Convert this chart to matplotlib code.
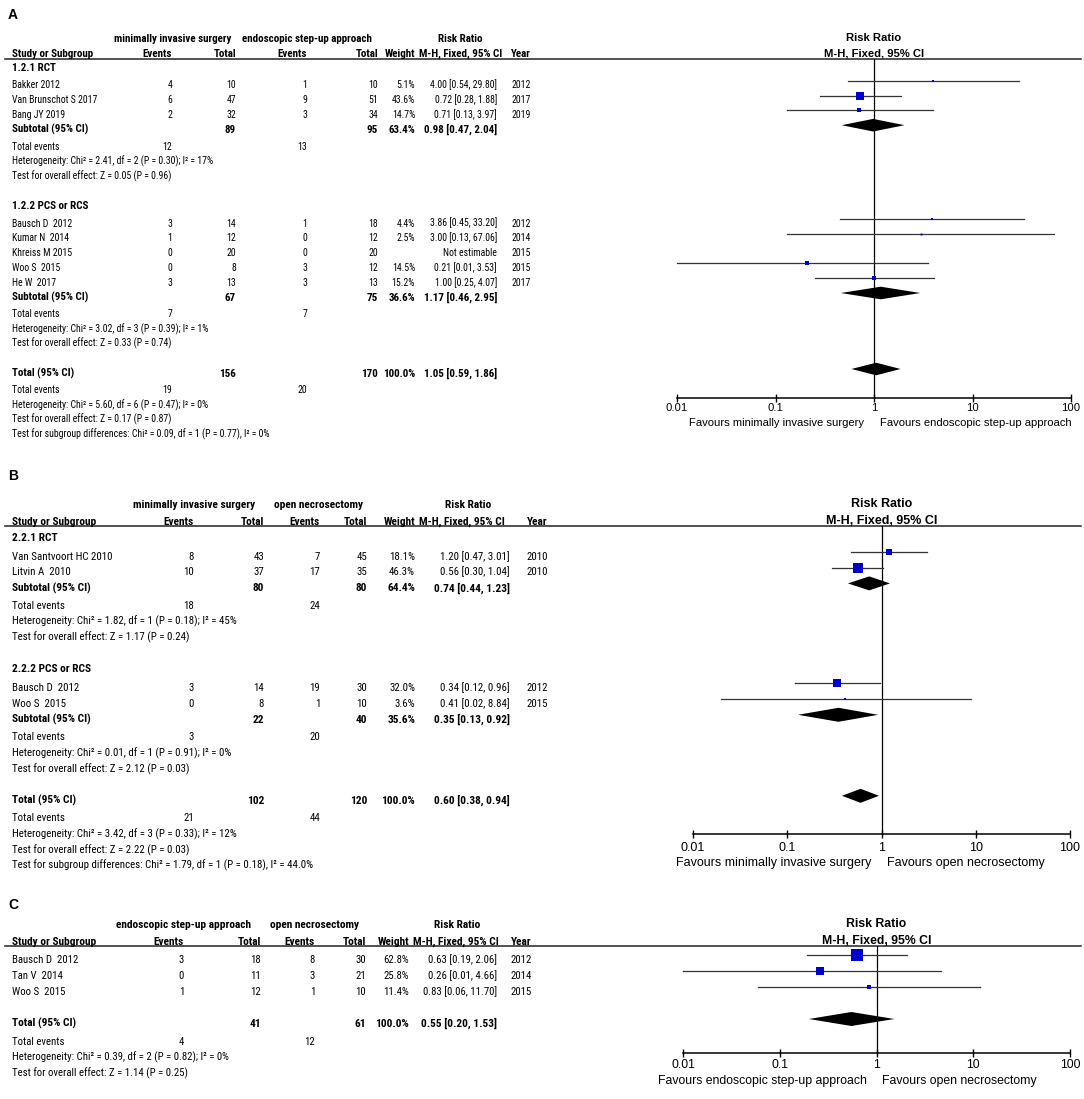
import os
import matplotlib
matplotlib.use('Agg')
import matplotlib.pyplot as plt
from matplotlib import font_manager
from matplotlib.font_manager import FontProperties
from matplotlib.ticker import NullLocator

W, H = 1084, 1099
DPI = 100

# ---------------- data: panel A ----------------
A_GROUP1 = "minimally invasive surgery"
A_GROUP2 = "endoscopic step-up approach"
A_SUBGROUPS = ["1.2.1 RCT", "1.2.2 PCS or RCS"]
A_STUDY = [["Bakker 2012", "Van Brunschot S 2017", "Bang JY 2019"],
           ["Bausch D  2012", "Kumar N  2014", "Khreiss M 2015", "Woo S  2015", "He W  2017"]]
A_EV1 = [[4, 6, 2], [3, 1, 0, 0, 3]]
A_TOT1 = [[10, 47, 32], [14, 12, 20, 8, 13]]
A_EV2 = [[1, 9, 3], [1, 0, 0, 3, 3]]
A_TOT2 = [[10, 51, 34], [18, 12, 20, 12, 13]]
A_WEIGHT = [[5.1, 43.6, 14.7], [4.4, 2.5, None, 14.5, 15.2]]
A_RR = [[4.00, 0.72, 0.71], [3.86, 3.00, None, 0.21, 1.00]]
A_LO = [[0.54, 0.28, 0.13], [0.45, 0.13, None, 0.01, 0.25]]
A_HI = [[29.80, 1.88, 3.97], [33.20, 67.06, None, 3.53, 4.07]]
A_YEAR = [[2012, 2017, 2019], [2012, 2014, 2015, 2015, 2017]]
A_SUB_TOT1 = [89, 67]
A_SUB_TOT2 = [95, 75]
A_SUB_WEIGHT = [63.4, 36.6]
A_SUB_RR = [0.98, 1.17]
A_SUB_LO = [0.47, 0.46]
A_SUB_HI = [2.04, 2.95]
A_SUB_EV1 = [12, 7]
A_SUB_EV2 = [13, 7]
A_SUB_HET = ["Heterogeneity: Chi² = 2.41, df = 2 (P = 0.30); I² = 17%",
             "Heterogeneity: Chi² = 3.02, df = 3 (P = 0.39); I² = 1%"]
A_SUB_Z = ["Test for overall effect: Z = 0.05 (P = 0.96)",
           "Test for overall effect: Z = 0.33 (P = 0.74)"]
A_TOTAL = [156, 170]
A_TOTAL_RR = [1.05, 0.59, 1.86]
A_TOTAL_EV = [19, 20]
A_TOTAL_HET = "Heterogeneity: Chi² = 5.60, df = 6 (P = 0.47); I² = 0%"
A_TOTAL_Z = "Test for overall effect: Z = 0.17 (P = 0.87)"
A_SUBDIFF = "Test for subgroup differences: Chi² = 0.09, df = 1 (P = 0.77), I² = 0%"
A_FAVOURS = ["Favours minimally invasive surgery", "Favours endoscopic step-up approach"]

# ---------------- data: panel B ----------------
B_GROUP1 = "minimally invasive surgery"
B_GROUP2 = "open necrosectomy"
B_SUBGROUPS = ["2.2.1 RCT", "2.2.2 PCS or RCS"]
B_STUDY = [["Van Santvoort HC 2010", "Litvin A  2010"], ["Bausch D  2012", "Woo S  2015"]]
B_EV1 = [[8, 10], [3, 0]]
B_TOT1 = [[43, 37], [14, 8]]
B_EV2 = [[7, 17], [19, 1]]
B_TOT2 = [[45, 35], [30, 10]]
B_WEIGHT = [[18.1, 46.3], [32.0, 3.6]]
B_RR = [[1.20, 0.56], [0.34, 0.41]]
B_LO = [[0.47, 0.30], [0.12, 0.02]]
B_HI = [[3.01, 1.04], [0.96, 8.84]]
B_YEAR = [[2010, 2010], [2012, 2015]]
B_SUB_TOT1 = [80, 22]
B_SUB_TOT2 = [80, 40]
B_SUB_WEIGHT = [64.4, 35.6]
B_SUB_RR = [0.74, 0.35]
B_SUB_LO = [0.44, 0.13]
B_SUB_HI = [1.23, 0.92]
B_SUB_EV1 = [18, 3]
B_SUB_EV2 = [24, 20]
B_SUB_HET = ["Heterogeneity: Chi² = 1.82, df = 1 (P = 0.18); I² = 45%",
             "Heterogeneity: Chi² = 0.01, df = 1 (P = 0.91); I² = 0%"]
B_SUB_Z = ["Test for overall effect: Z = 1.17 (P = 0.24)",
           "Test for overall effect: Z = 2.12 (P = 0.03)"]
B_TOTAL = [102, 120]
B_TOTAL_RR = [0.60, 0.38, 0.94]
B_TOTAL_EV = [21, 44]
B_TOTAL_HET = "Heterogeneity: Chi² = 3.42, df = 3 (P = 0.33); I² = 12%"
B_TOTAL_Z = "Test for overall effect: Z = 2.22 (P = 0.03)"
B_SUBDIFF = "Test for subgroup differences: Chi² = 1.79, df = 1 (P = 0.18), I² = 44.0%"
B_FAVOURS = ["Favours minimally invasive surgery", "Favours open necrosectomy"]

# ---------------- data: panel C ----------------
C_GROUP1 = "endoscopic step-up approach"
C_GROUP2 = "open necrosectomy"
C_STUDY = [["Bausch D  2012", "Tan V  2014", "Woo S  2015"]]
C_EV1 = [[3, 0, 1]]
C_TOT1 = [[18, 11, 12]]
C_EV2 = [[8, 3, 1]]
C_TOT2 = [[30, 21, 10]]
C_WEIGHT = [[62.8, 25.8, 11.4]]
C_RR = [[0.63, 0.26, 0.83]]
C_LO = [[0.19, 0.01, 0.06]]
C_HI = [[2.06, 4.66, 11.70]]
C_YEAR = [[2012, 2014, 2015]]
C_TOTAL = [41, 61]
C_TOTAL_RR = [0.55, 0.20, 1.53]
C_TOTAL_EV = [4, 12]
C_TOTAL_HET = "Heterogeneity: Chi² = 0.39, df = 2 (P = 0.82); I² = 0%"
C_TOTAL_Z = "Test for overall effect: Z = 1.14 (P = 0.25)"
C_FAVOURS = ["Favours endoscopic step-up approach", "Favours open necrosectomy"]

TICKS = [0.01, 0.1, 1, 10, 100]
TICK_LABELS = ["0.01", "0.1", "1", "10", "100"]

# ---------------- fonts ----------------
# the table part of the reference is set in a narrow sans; use one if the system has it
FOREST_FONT = ['Liberation Sans', 'DejaVu Sans']
plt.rcParams['font.family'] = FOREST_FONT

NARROW_FILES = [
    ('liberationsansnarrow-regular.ttf', 'liberationsansnarrow-bold.ttf'),
    ('arialn.ttf', 'arialnb.ttf'),
    ('notosans-condensed.ttf', 'notosans-condensedbold.ttf'),
    ('robotocondensed-regular.ttf', 'robotocondensed-bold.ttf'),
    ('notosans-semicondensed.ttf', 'notosans-semicondensedbold.ttf'),
    ('opensans-condensedregular.ttf', 'opensans-condensedbold.ttf'),
]


def pick_table_font():
    files = {os.path.basename(f.fname).lower(): f.fname for f in font_manager.fontManager.ttflist}
    for reg, bold in NARROW_FILES:
        if reg in files and bold in files:
            return FontProperties(fname=files[reg]), FontProperties(fname=files[bold]), True
    # any other condensed / narrow sans family
    cands = {}
    for f in font_manager.fontManager.ttflist:
        base = os.path.basename(f.fname).lower()
        if ('narrow' in base or 'condensed' in base) and 'mono' not in base and 'serif' not in base \
                and 'italic' not in base and 'extra' not in base:
            key = f.name
            w = f.weight if isinstance(f.weight, int) else (700 if 'bold' in str(f.weight) else 400)
            cands.setdefault(key, {})
            if w <= 450 and 'regular' not in cands[key]:
                cands[key]['regular'] = f.fname
            if 650 <= w <= 750 and 'bold' not in cands[key]:
                cands[key]['bold'] = f.fname
    for key, v in cands.items():
        if 'regular' in v and 'bold' in v:
            return FontProperties(fname=v['regular']), FontProperties(fname=v['bold']), True
    return (FontProperties(family='Liberation Sans'),
            FontProperties(family='Liberation Sans', weight='bold'), False)


TABLE_REG, TABLE_BOLD, IS_NARROW = pick_table_font()

BLUE = '#0000cc'
LINE = '#333333'

# ---------------- layout (pixels) ----------------
LAY_A = dict(label=15, h1=38, h2=53, line=59, y0=67, pitch=14.8, pxem=8.8, bpxem=9.1,
             ev1=172, tot1=236, ev2=307, tot2=378, wt=415, ci=497, year=531, mh=419,
             g1=173, g2=307, rrh=460,
             x001=677, x100=1071, axis=398, tickpad=1.0, fav=423, ffs=8.1, sq=1.22, dia=6.3)
LAY_B = dict(label=476, h1=504, h2=521, line=526, y0=537, pitch=15.8, pxem=9.8, bpxem=9.5,
             ev1=194, tot1=264, ev2=320, tot2=367, wt=415, ci=510, year=548, mh=419,
             g1=194, g2=319, rrh=468,
             x001=693, x100=1070, axis=834, tickpad=3.2, fav=863, ffs=9.0, sq=1.38, dia=7.0)
LAY_C = dict(label=905, h1=924, h2=941, line=946, y0=959, pitch=16.0, pxem=9.67, bpxem=9.5,
             ev1=184, tot1=261, ev2=315, tot2=366, wt=409, ci=497, year=532, mh=413,
             g1=184, g2=315, rrh=457,
             x001=683, x100=1070, axis=1053, tickpad=1.8, fav=1081, ffs=8.8, sq=1.4, dia=7.0)

CALIB = "Test for overall effect: Z = 0.05 (P = 0.96)"
CALIB_BOLD = "Subtotal (95% CI) Study or Subgroup"


def ci_text(rr, lo, hi):
    return f"{rr:.2f} [{lo:.2f}, {hi:.2f}]"


def fitted_size(renderer, pxem, prop, weight, sample):
    # size for `prop` so that `sample` is as wide as Arial-metric text at pxem px per em
    base = pxem * 0.72
    ref = FontProperties(family='Liberation Sans', weight=weight, size=base)
    mine = prop.copy()
    mine.set_size(base)
    w_ref = renderer.get_text_width_height_descent(sample, ref, ismath=False)[0]
    w_mine = renderer.get_text_width_height_descent(sample, mine, ismath=False)[0]
    size = base * w_ref / w_mine
    return size if IS_NARROW else size * 1.06


def draw_panel(fig, bg, renderer, letter, d, lay):
    tfs = fitted_size(renderer, lay['pxem'], TABLE_REG, 'normal', CALIB)
    bfs = fitted_size(renderer, lay['bpxem'], TABLE_BOLD, 'bold', CALIB_BOLD)
    reg = TABLE_REG.copy()
    reg.set_size(tfs)
    bold = TABLE_BOLD.copy()
    bold.set_size(bfs)

    def t(x, y, s, ha='left', b=False):
        bg.text(x, y + 0.358 * tfs / 0.72, s, ha=ha, va='baseline',
                fontproperties=bold if b else reg)

    bg.text(8, lay['label'], letter, ha='left', va='center', fontsize=10, weight='bold')

    # column headers
    t(lay['g1'], lay['h1'], d['g1'], 'center', True)
    t(lay['g2'], lay['h1'], d['g2'], 'center', True)
    t(lay['rrh'], lay['h1'], "Risk Ratio", 'center', True)
    t(12, lay['h2'], "Study or Subgroup", b=True)
    t(lay['ev1'], lay['h2'], "Events", 'right', True)
    t(lay['tot1'], lay['h2'], "Total", 'right', True)
    t(lay['ev2'], lay['h2'], "Events", 'right', True)
    t(lay['tot2'], lay['h2'], "Total", 'right', True)
    t(lay['wt'], lay['h2'], "Weight", 'right', True)
    t(lay['mh'], lay['h2'], "M-H, Fixed, 95% CI", b=True)
    t(lay['year'], lay['h2'], "Year", 'right', True)
    bg.plot([5, 1081], [lay['line'], lay['line']], color='#222222', lw=1.1)

    # forest axes, y in the same pixel units as the table
    x0, x1 = lay['x001'], lay['x100']
    top, bot = lay['line'], lay['axis']
    ax = fig.add_axes([x0 / W, 1 - bot / H, (x1 - x0) / W, (bot - top) / H])
    ax.set_xscale('log')
    ax.set_xlim(0.01, 100)
    ax.set_ylim(bot, top)
    ax.patch.set_alpha(0)
    for s in ('top', 'left', 'right'):
        ax.spines[s].set_visible(False)
    ax.spines['bottom'].set_linewidth(1.1)
    ax.set_xticks(TICKS)
    ax.set_xticklabels(TICK_LABELS)
    ax.xaxis.set_minor_locator(NullLocator())
    ax.tick_params(axis='x', direction='inout', length=5.5, width=1.0,
                   pad=lay['tickpad'], labelsize=lay['ffs'])
    ax.set_yticks([])
    ax.axvline(1, color='black', lw=0.9)
    ax.text(1, lay['h1'], "Risk Ratio", ha='center', va='center', fontsize=lay['ffs'], weight='bold')
    ax.text(1, lay['h2'], "M-H, Fixed, 95% CI", ha='center', va='center', fontsize=lay['ffs'], weight='bold')
    ax.annotate(d['fav'][0], xy=(1, lay['fav']), xytext=(-7, 0), textcoords='offset points',
                ha='right', va='center', fontsize=lay['ffs'], annotation_clip=False)
    ax.annotate(d['fav'][1], xy=(1, lay['fav']), xytext=(4, 0), textcoords='offset points',
                ha='left', va='center', fontsize=lay['ffs'], annotation_clip=False)

    shift = -4

    def diamond(rr, lo, hi, y):
        h = lay['dia']
        ax.fill([lo, rr, hi, rr], [y + shift, y + shift - h, y + shift, y + shift + h],
                color='black', lw=0, clip_on=False)

    y = lay['y0']
    P = lay['pitch']
    subs = d.get('subs')
    for g, studies in enumerate(d['study']):
        if subs:
            t(12, y, subs[g], b=True)
            y += P + 3
        for i, name in enumerate(studies):
            t(12, y, name)
            t(lay['ev1'], y, str(d['ev1'][g][i]), 'right')
            t(lay['tot1'], y, str(d['tot1'][g][i]), 'right')
            t(lay['ev2'], y, str(d['ev2'][g][i]), 'right')
            t(lay['tot2'], y, str(d['tot2'][g][i]), 'right')
            rr = d['rr'][g][i]
            if rr is None:
                t(lay['ci'], y, "Not estimable", 'right')
            else:
                lo, hi, w = d['lo'][g][i], d['hi'][g][i], d['wt'][g][i]
                t(lay['wt'], y, f"{w:.1f}%", 'right')
                t(lay['ci'], y, ci_text(rr, lo, hi), 'right')
                ax.plot([lo, hi], [y + shift, y + shift], color=LINE, lw=0.9, clip_on=False)
                side = lay['sq'] * w ** 0.5 * 0.72
                ax.plot([rr], [y + shift], marker='s', ms=side, color=BLUE, mec=BLUE,
                        mew=0, clip_on=False)
            t(lay['year'], y, str(d['year'][g][i]), 'right')
            y += P
        if subs:
            t(12, y, "Subtotal (95% CI)", b=True)
            t(lay['tot1'], y, str(d['sub_tot1'][g]), 'right', True)
            t(lay['tot2'], y, str(d['sub_tot2'][g]), 'right', True)
            t(lay['wt'], y, f"{d['sub_wt'][g]:.1f}%", 'right', True)
            t(lay['ci'], y, ci_text(d['sub_rr'][g], d['sub_lo'][g], d['sub_hi'][g]), 'right', True)
            diamond(d['sub_rr'][g], d['sub_lo'][g], d['sub_hi'][g], y)
            y += P + 2
            t(12, y, "Total events")
            t(lay['ev1'], y, str(d['sub_ev1'][g]), 'right')
            t(lay['ev2'], y, str(d['sub_ev2'][g]), 'right')
            y += P
            t(12, y, d['sub_het'][g])
            y += P
            t(12, y, d['sub_z'][g])
            y += P
        y += P

    rr, lo, hi = d['total_rr']
    t(12, y, "Total (95% CI)", b=True)
    t(lay['tot1'], y, str(d['total'][0]), 'right', True)
    t(lay['tot2'], y, str(d['total'][1]), 'right', True)
    t(lay['wt'], y, "100.0%", 'right', True)
    t(lay['ci'], y, ci_text(rr, lo, hi), 'right', True)
    diamond(rr, lo, hi, y)
    y += P + 2
    t(12, y, "Total events")
    t(lay['ev1'], y, str(d['total_ev'][0]), 'right')
    t(lay['ev2'], y, str(d['total_ev'][1]), 'right')
    y += P
    t(12, y, d['total_het'])
    y += P
    t(12, y, d['total_z'])
    y += P
    if d.get('subdiff'):
        t(12, y, d['subdiff'])


fig = plt.figure(figsize=(W / DPI, H / DPI), dpi=DPI)
renderer = fig.canvas.get_renderer()
bg = fig.add_axes([0, 0, 1, 1])
bg.set_xlim(0, W)
bg.set_ylim(H, 0)
bg.axis('off')

panel_a = dict(g1=A_GROUP1, g2=A_GROUP2, subs=A_SUBGROUPS, study=A_STUDY, ev1=A_EV1, tot1=A_TOT1,
               ev2=A_EV2, tot2=A_TOT2, wt=A_WEIGHT, rr=A_RR, lo=A_LO, hi=A_HI, year=A_YEAR,
               sub_tot1=A_SUB_TOT1, sub_tot2=A_SUB_TOT2, sub_wt=A_SUB_WEIGHT, sub_rr=A_SUB_RR,
               sub_lo=A_SUB_LO, sub_hi=A_SUB_HI, sub_ev1=A_SUB_EV1, sub_ev2=A_SUB_EV2,
               sub_het=A_SUB_HET, sub_z=A_SUB_Z, total=A_TOTAL, total_rr=A_TOTAL_RR,
               total_ev=A_TOTAL_EV, total_het=A_TOTAL_HET, total_z=A_TOTAL_Z,
               subdiff=A_SUBDIFF, fav=A_FAVOURS)
panel_b = dict(g1=B_GROUP1, g2=B_GROUP2, subs=B_SUBGROUPS, study=B_STUDY, ev1=B_EV1, tot1=B_TOT1,
               ev2=B_EV2, tot2=B_TOT2, wt=B_WEIGHT, rr=B_RR, lo=B_LO, hi=B_HI, year=B_YEAR,
               sub_tot1=B_SUB_TOT1, sub_tot2=B_SUB_TOT2, sub_wt=B_SUB_WEIGHT, sub_rr=B_SUB_RR,
               sub_lo=B_SUB_LO, sub_hi=B_SUB_HI, sub_ev1=B_SUB_EV1, sub_ev2=B_SUB_EV2,
               sub_het=B_SUB_HET, sub_z=B_SUB_Z, total=B_TOTAL, total_rr=B_TOTAL_RR,
               total_ev=B_TOTAL_EV, total_het=B_TOTAL_HET, total_z=B_TOTAL_Z,
               subdiff=B_SUBDIFF, fav=B_FAVOURS)
panel_c = dict(g1=C_GROUP1, g2=C_GROUP2, study=C_STUDY, ev1=C_EV1, tot1=C_TOT1,
               ev2=C_EV2, tot2=C_TOT2, wt=C_WEIGHT, rr=C_RR, lo=C_LO, hi=C_HI, year=C_YEAR,
               total=C_TOTAL, total_rr=C_TOTAL_RR, total_ev=C_TOTAL_EV,
               total_het=C_TOTAL_HET, total_z=C_TOTAL_Z, fav=C_FAVOURS)

draw_panel(fig, bg, renderer, "A", panel_a, LAY_A)
draw_panel(fig, bg, renderer, "B", panel_b, LAY_B)
draw_panel(fig, bg, renderer, "C", panel_c, LAY_C)

fig.savefig("out.png", dpi=DPI)
